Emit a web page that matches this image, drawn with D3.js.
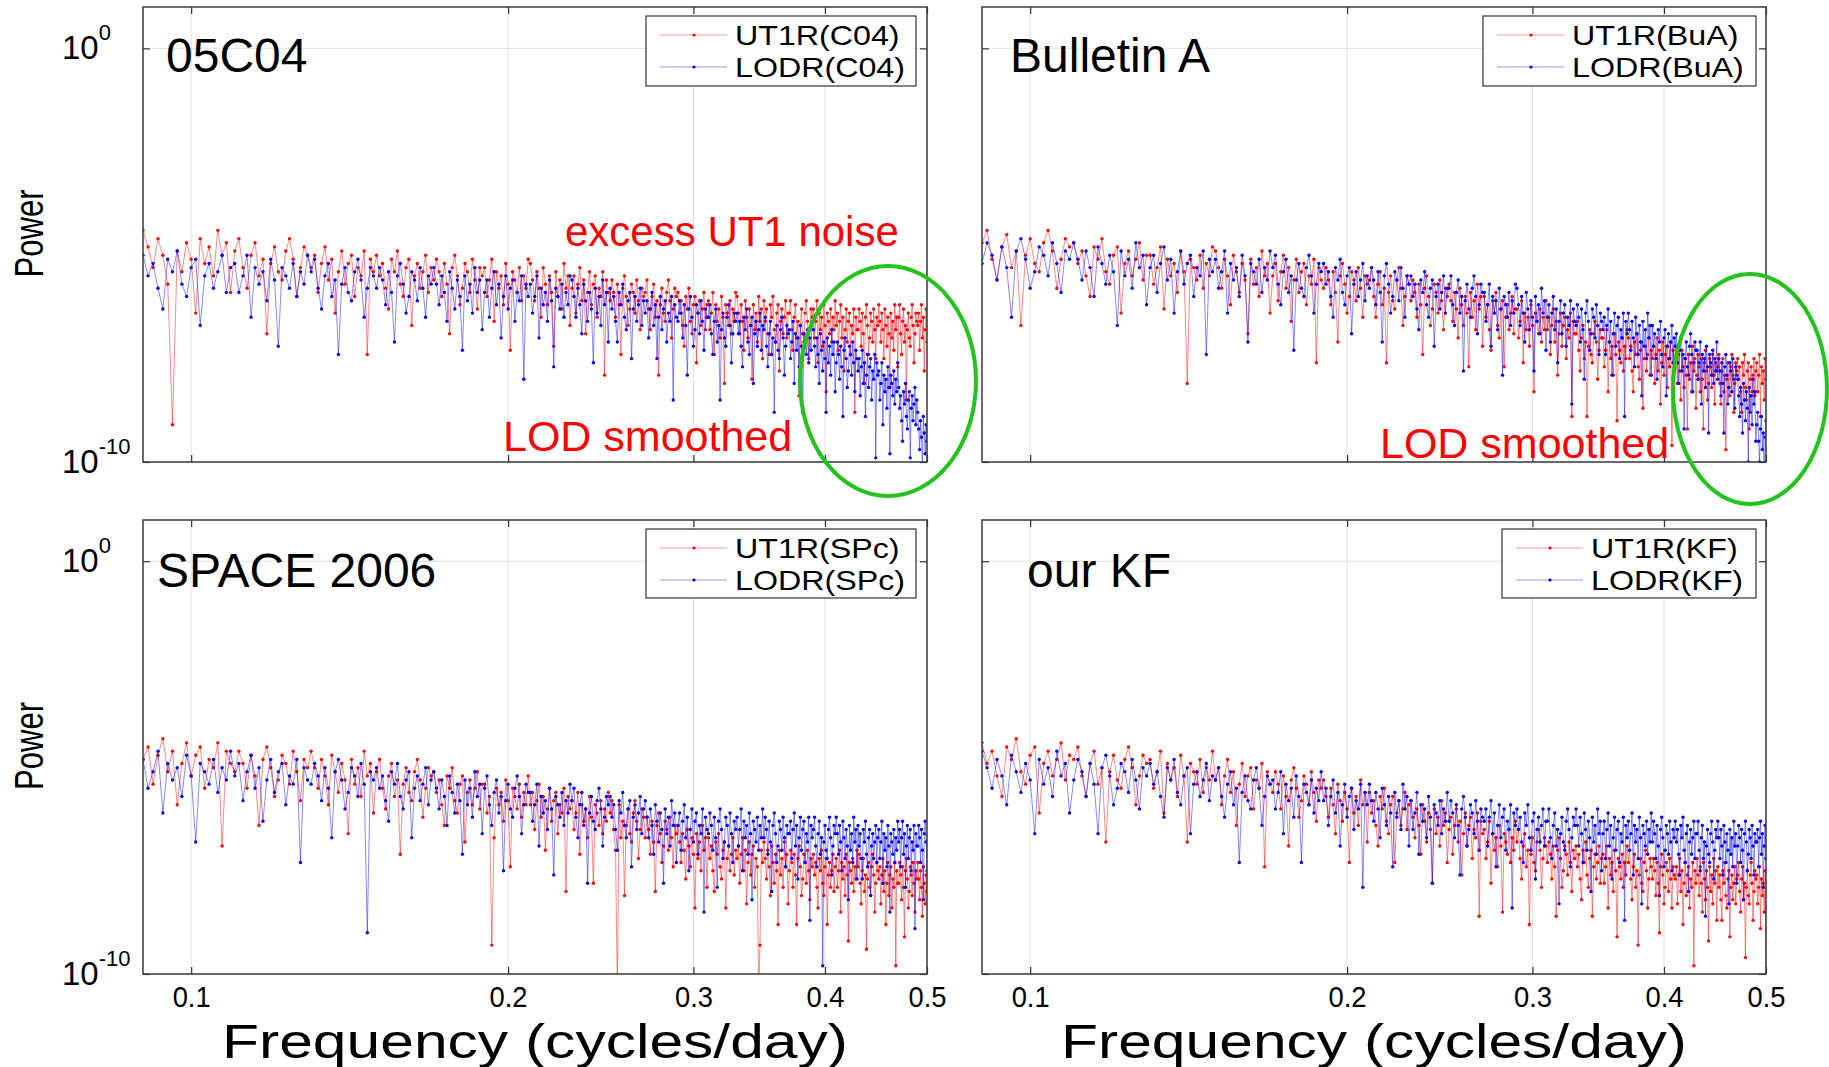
<!DOCTYPE html>
<html><head><meta charset="utf-8">
<script src="https://cdn.jsdelivr.net/npm/d3@7"></script>
<style>body{margin:0;background:#fff} text{font-family:"Liberation Sans",Arial,Helvetica,sans-serif}</style>
</head><body><svg id="c" width="1829" height="1067"></svg>
<script>
// Frequencies (cycles/day)
const freqs = [
0.090,0.091,0.092,0.093,0.094,0.095,0.096,0.097,0.098,0.099,0.100,0.101,0.102,0.103,0.104,0.105,0.106,0.107,0.108,0.109,
0.110,0.111,0.112,0.113,0.114,0.115,0.116,0.117,0.118,0.119,0.120,0.121,0.122,0.123,0.124,0.125,0.126,0.127,0.128,0.129,
0.130,0.131,0.132,0.133,0.134,0.135,0.136,0.137,0.138,0.139,0.140,0.141,0.142,0.143,0.144,0.145,0.146,0.147,0.148,0.149,
0.150,0.151,0.152,0.153,0.154,0.155,0.156,0.157,0.158,0.159,0.160,0.161,0.162,0.163,0.164,0.165,0.166,0.167,0.168,0.169,
0.170,0.171,0.172,0.173,0.174,0.175,0.176,0.177,0.178,0.179,0.180,0.181,0.182,0.183,0.184,0.185,0.186,0.187,0.188,0.189,
0.190,0.191,0.192,0.193,0.194,0.195,0.196,0.197,0.198,0.199,0.200,0.201,0.202,0.203,0.204,0.205,0.206,0.207,0.208,0.209,
0.210,0.211,0.212,0.213,0.214,0.215,0.216,0.217,0.218,0.219,0.220,0.221,0.222,0.223,0.224,0.225,0.226,0.227,0.228,0.229,
0.230,0.231,0.232,0.233,0.234,0.235,0.236,0.237,0.238,0.239,0.240,0.241,0.242,0.243,0.244,0.245,0.246,0.247,0.248,0.249,
0.250,0.251,0.252,0.253,0.254,0.255,0.256,0.257,0.258,0.259,0.260,0.261,0.262,0.263,0.264,0.265,0.266,0.267,0.268,0.269,
0.270,0.271,0.272,0.273,0.274,0.275,0.276,0.277,0.278,0.279,0.280,0.281,0.282,0.283,0.284,0.285,0.286,0.287,0.288,0.289,
0.290,0.291,0.292,0.293,0.294,0.295,0.296,0.297,0.298,0.299,0.300,0.301,0.302,0.303,0.304,0.305,0.306,0.307,0.308,0.309,
0.310,0.311,0.312,0.313,0.314,0.315,0.316,0.317,0.318,0.319,0.320,0.321,0.322,0.323,0.324,0.325,0.326,0.327,0.328,0.329,
0.330,0.331,0.332,0.333,0.334,0.335,0.336,0.337,0.338,0.339,0.340,0.341,0.342,0.343,0.344,0.345,0.346,0.347,0.348,0.349,
0.350,0.351,0.352,0.353,0.354,0.355,0.356,0.357,0.358,0.359,0.360,0.361,0.362,0.363,0.364,0.365,0.366,0.367,0.368,0.369,
0.370,0.371,0.372,0.373,0.374,0.375,0.376,0.377,0.378,0.379,0.380,0.381,0.382,0.383,0.384,0.385,0.386,0.387,0.388,0.389,
0.390,0.391,0.392,0.393,0.394,0.395,0.396,0.397,0.398,0.399,0.400,0.401,0.402,0.403,0.404,0.405,0.406,0.407,0.408,0.409,
0.410,0.411,0.412,0.413,0.414,0.415,0.416,0.417,0.418,0.419,0.420,0.421,0.422,0.423,0.424,0.425,0.426,0.427,0.428,0.429,
0.430,0.431,0.432,0.433,0.434,0.435,0.436,0.437,0.438,0.439,0.440,0.441,0.442,0.443,0.444,0.445,0.446,0.447,0.448,0.449,
0.450,0.451,0.452,0.453,0.454,0.455,0.456,0.457,0.458,0.459,0.460,0.461,0.462,0.463,0.464,0.465,0.466,0.467,0.468,0.469,
0.470,0.471,0.472,0.473,0.474,0.475,0.476,0.477,0.478,0.479,0.480,0.481,0.482,0.483,0.484,0.485,0.486,0.487,0.488,0.489,
0.490,0.491,0.492,0.493,0.494,0.495,0.496,0.497,0.498,0.499,0.500];

// log10(Power)
const c04Ut1 = [
-4.4,-4.8,-5.3,-4.6,-5.0,-5.7,-9.1,-4.9,-5.4,-4.7,-5.1,-6.4,-4.6,-5.2,-4.8,-5.5,-4.4,-5.0,-4.7,-5.9,
-4.9,-4.6,-5.3,-5.8,-5.0,-4.7,-5.5,-5.1,-6.9,-5.2,-4.8,-5.4,-5.6,-4.9,-4.6,-5.1,-6.0,-5.3,-4.8,-5.0,
-5.3,-5.0,-5.9,-5.2,-4.8,-5.6,-5.1,-6.4,-5.4,-4.9,-5.7,-5.2,-5.0,-6.0,-5.3,-5.5,-4.9,-7.4,-5.1,-5.4,
-5.0,-5.5,-5.2,-5.8,-6.3,-5.1,-5.4,-4.9,-5.7,-6.0,-5.3,-5.1,-6.7,-5.5,-5.2,-5.8,-5.4,-5.0,-5.9,-5.3,
-5.6,-5.1,-5.4,-6.0,-5.2,-5.7,-6.9,-5.3,-5.0,-5.5,-6.2,-5.8,-5.2,-5.4,-5.9,-5.1,-5.6,-6.3,-5.3,-5.5,
-5.3,-6.0,-5.6,-5.1,-6.6,-5.4,-5.8,-5.5,-6.2,-5.2,-5.7,-7.3,-5.4,-5.6,-5.9,-5.3,-6.1,-5.5,-5.8,-5.1,
-5.2,-5.6,-6.1,-5.4,-5.8,-6.5,-5.3,-5.7,-6.2,-5.5,-5.9,-7.2,-5.4,-6.0,-5.6,-6.3,-5.2,-5.8,-5.5,-6.7,
-5.8,-5.5,-6.4,-5.7,-5.3,-6.1,-5.6,-6.9,-5.9,-5.4,-6.2,-5.7,-5.5,-6.5,-5.8,-6.0,-5.4,-7.9,-5.6,-5.9,
-6.1,-5.6,-5.9,-6.5,-5.7,-6.2,-7.4,-5.8,-5.5,-6.0,-6.7,-6.3,-5.7,-5.9,-6.4,-5.6,-6.1,-6.8,-5.8,-6.0,
-5.9,-5.6,-6.3,-6.8,-6.0,-5.7,-6.5,-6.1,-7.9,-6.2,-5.8,-6.4,-6.6,-5.9,-5.6,-6.1,-7.0,-6.3,-5.8,-6.0,
-5.9,-6.4,-6.1,-6.7,-7.2,-6.0,-6.3,-5.8,-6.6,-6.9,-6.2,-6.0,-7.6,-6.4,-6.1,-6.7,-6.3,-5.9,-6.8,-6.2,
-6.1,-6.8,-6.4,-5.9,-7.4,-6.2,-6.6,-6.3,-7.0,-6.0,-6.5,-8.1,-6.2,-6.4,-6.7,-6.1,-6.9,-6.3,-6.6,-5.9,
-6.0,-6.4,-6.9,-6.2,-6.6,-7.3,-6.1,-6.5,-7.0,-6.3,-6.7,-8.0,-6.2,-6.8,-6.4,-7.1,-6.0,-6.6,-6.3,-7.5,
-6.1,-6.6,-6.3,-6.9,-7.4,-6.2,-6.5,-6.0,-6.8,-7.1,-6.4,-6.2,-7.8,-6.6,-6.3,-6.9,-6.5,-6.1,-7.0,-6.4,
-6.4,-6.1,-6.8,-7.3,-6.5,-6.2,-7.0,-6.6,-8.4,-6.7,-6.3,-6.9,-7.1,-6.4,-6.1,-6.6,-7.5,-6.8,-6.3,-6.5,
-6.3,-7.0,-6.6,-6.1,-7.6,-6.4,-6.8,-6.5,-7.2,-6.2,-6.7,-8.3,-6.4,-6.6,-6.9,-6.3,-7.1,-6.5,-6.8,-6.1,
-6.7,-6.4,-7.3,-6.6,-6.2,-7.0,-6.5,-7.8,-6.8,-6.3,-7.1,-6.6,-6.4,-7.4,-6.7,-6.9,-6.3,-8.8,-6.5,-6.8,
-6.8,-6.3,-6.6,-7.2,-6.4,-6.9,-8.1,-6.5,-6.2,-6.7,-7.4,-7.0,-6.4,-6.6,-7.1,-6.3,-6.8,-7.5,-6.5,-6.7,
-6.2,-6.6,-7.1,-6.4,-6.8,-7.5,-6.3,-6.7,-7.2,-6.5,-6.9,-8.2,-6.4,-7.0,-6.6,-7.3,-6.2,-6.8,-6.5,-7.7,
-6.5,-6.2,-6.9,-7.4,-6.6,-6.3,-7.1,-6.7,-8.5,-6.8,-6.4,-7.0,-7.2,-6.5,-6.2,-6.7,-7.6,-6.9,-6.4,-6.6,
-6.7,-6.4,-7.3,-6.6,-6.2,-7.0,-6.5,-7.8,-6.8,-6.3,-7.1];
const c04Lod = [
-5.0,-5.5,-5.2,-5.8,-6.3,-5.1,-5.4,-4.9,-5.7,-6.0,-5.3,-5.1,-6.7,-5.5,-5.2,-5.8,-5.4,-5.0,-5.9,-5.3,
-5.2,-5.9,-5.5,-5.0,-6.5,-5.3,-5.7,-5.4,-6.1,-5.1,-5.6,-7.2,-5.3,-5.5,-5.8,-5.2,-6.0,-5.4,-5.7,-5.0,
-5.4,-5.1,-5.8,-6.3,-5.5,-5.2,-6.0,-5.6,-7.4,-5.7,-5.3,-5.9,-6.1,-5.4,-5.1,-5.6,-6.5,-5.8,-5.3,-5.5,
-5.8,-5.3,-5.6,-6.2,-5.4,-5.9,-7.1,-5.5,-5.2,-5.7,-6.4,-6.0,-5.4,-5.6,-6.1,-5.3,-5.8,-6.5,-5.5,-5.7,
-5.3,-5.7,-6.2,-5.5,-5.9,-6.6,-5.4,-5.8,-6.3,-5.6,-6.0,-7.3,-5.5,-6.1,-5.7,-6.4,-5.3,-5.9,-5.6,-6.8,
-5.9,-5.6,-6.5,-5.8,-5.4,-6.2,-5.7,-7.0,-6.0,-5.5,-6.3,-5.8,-5.6,-6.6,-5.9,-6.1,-5.5,-8.0,-5.7,-6.0,
-5.7,-6.4,-6.0,-5.5,-7.0,-5.8,-6.2,-5.9,-6.6,-5.6,-6.1,-7.7,-5.8,-6.0,-6.3,-5.7,-6.5,-5.9,-6.2,-5.5,
-5.6,-6.0,-6.5,-5.8,-6.2,-6.9,-5.7,-6.1,-6.6,-5.9,-6.3,-7.6,-5.8,-6.4,-6.0,-6.7,-5.6,-6.2,-5.9,-7.1,
-5.8,-6.3,-6.0,-6.6,-7.1,-5.9,-6.2,-5.7,-6.5,-6.8,-6.1,-5.9,-7.5,-6.3,-6.0,-6.6,-6.2,-5.8,-6.7,-6.1,
-6.4,-6.1,-7.0,-6.3,-5.9,-6.7,-6.2,-7.5,-6.5,-6.0,-6.8,-6.3,-6.1,-7.1,-6.4,-6.6,-6.0,-8.5,-6.2,-6.5,
-6.6,-6.1,-6.4,-7.0,-6.2,-6.7,-7.9,-6.3,-6.0,-6.5,-7.2,-6.8,-6.2,-6.4,-6.9,-6.1,-6.6,-7.3,-6.3,-6.5,
-6.5,-6.2,-6.9,-7.4,-6.6,-6.3,-7.1,-6.7,-8.5,-6.8,-6.4,-7.0,-7.2,-6.5,-6.2,-6.7,-7.6,-6.9,-6.4,-6.6,
-6.4,-6.9,-6.6,-7.2,-7.7,-6.5,-6.8,-6.3,-7.1,-7.4,-6.7,-6.5,-8.1,-6.9,-6.6,-7.2,-6.8,-6.4,-7.3,-6.7,
-6.8,-6.5,-7.2,-7.7,-6.9,-6.6,-7.4,-7.0,-8.8,-7.1,-6.7,-7.3,-7.5,-6.8,-6.5,-7.0,-7.9,-7.2,-6.7,-6.9,
-6.8,-7.5,-7.1,-6.6,-8.1,-6.9,-7.3,-7.0,-7.7,-6.7,-7.2,-8.8,-6.9,-7.1,-7.4,-6.8,-7.6,-7.0,-7.3,-6.6,
-6.8,-7.2,-7.7,-7.0,-7.4,-8.1,-6.9,-7.3,-7.8,-7.1,-7.5,-8.8,-7.0,-7.6,-7.2,-7.9,-6.8,-7.4,-7.1,-8.3,
-7.6,-7.1,-7.4,-8.0,-7.2,-7.7,-8.9,-7.3,-7.0,-7.5,-8.2,-7.8,-7.2,-7.4,-7.9,-7.1,-7.6,-8.3,-7.3,-7.5,
-7.8,-7.5,-8.4,-7.7,-7.3,-8.1,-7.6,-8.9,-7.9,-7.4,-8.2,-7.7,-7.5,-8.5,-7.8,-8.0,-7.4,-9.9,-7.6,-7.9,
-7.8,-8.5,-8.1,-7.6,-9.1,-7.9,-8.3,-8.0,-8.7,-7.7,-8.2,-9.8,-7.9,-8.1,-8.4,-7.8,-8.6,-8.0,-8.3,-7.6,
-8.2,-8.7,-8.4,-9.0,-9.5,-8.3,-8.6,-8.1,-8.9,-9.2,-8.5,-8.3,-9.9,-8.7,-8.4,-9.0,-8.6,-8.2,-9.1,-8.5,
-8.8,-9.2,-9.7,-9.0,-9.4,-10.1,-8.9,-9.3,-9.8,-9.1,-9.5];
const buaUt1 = [
-4.7,-4.4,-5.1,-5.6,-4.8,-4.5,-5.3,-4.9,-6.7,-5.0,-4.6,-5.2,-5.4,-4.7,-4.4,-4.9,-5.8,-5.1,-4.6,-4.8,
-4.7,-5.2,-4.9,-5.5,-6.0,-4.8,-5.1,-4.6,-5.4,-5.7,-5.0,-4.8,-6.4,-5.2,-4.9,-5.5,-5.1,-4.7,-5.6,-5.0,
-5.0,-5.7,-5.3,-4.8,-6.3,-5.1,-5.5,-5.2,-5.9,-4.9,-5.4,-8.1,-5.1,-5.3,-5.6,-5.0,-5.8,-5.2,-5.5,-4.8,
-4.9,-5.3,-5.8,-5.1,-5.5,-6.2,-5.0,-5.4,-5.9,-5.2,-5.6,-6.9,-5.1,-5.7,-5.3,-6.0,-4.9,-5.5,-5.2,-6.4,
-5.5,-5.2,-6.1,-5.4,-5.0,-5.8,-5.3,-6.6,-5.6,-5.1,-5.9,-5.4,-5.2,-6.2,-5.5,-5.7,-5.1,-7.6,-5.3,-5.6,
-5.8,-5.3,-5.6,-6.2,-5.4,-5.9,-7.1,-5.5,-5.2,-5.7,-6.4,-6.0,-5.4,-5.6,-6.1,-5.3,-5.8,-6.5,-5.5,-5.7,
-5.6,-5.3,-6.0,-6.5,-5.7,-5.4,-6.2,-5.8,-7.6,-5.9,-5.5,-6.1,-6.3,-5.6,-5.3,-5.8,-6.7,-6.0,-5.5,-5.7,
-6.1,-5.6,-5.9,-6.5,-5.7,-6.2,-7.4,-5.8,-5.5,-6.0,-6.7,-6.3,-5.7,-5.9,-6.4,-5.6,-6.1,-6.8,-5.8,-6.0,
-5.7,-6.1,-6.6,-5.9,-6.3,-7.0,-5.8,-6.2,-6.7,-6.0,-6.4,-7.7,-5.9,-6.5,-6.1,-6.8,-5.7,-6.3,-6.0,-7.2,
-6.0,-6.5,-6.2,-6.8,-7.3,-6.1,-6.4,-5.9,-6.7,-7.0,-6.3,-6.1,-7.7,-6.5,-6.2,-6.8,-6.4,-6.0,-6.9,-6.3,
-6.3,-7.0,-6.6,-6.1,-7.6,-6.4,-6.8,-6.5,-7.2,-6.2,-6.7,-8.3,-6.4,-6.6,-6.9,-6.3,-7.1,-6.5,-6.8,-6.1,
-6.8,-6.5,-7.4,-6.7,-6.3,-7.1,-6.6,-7.9,-6.9,-6.4,-7.2,-6.7,-6.5,-7.5,-6.8,-7.0,-6.4,-8.9,-6.6,-6.9,
-6.9,-6.6,-7.3,-7.8,-7.0,-6.7,-7.5,-7.1,-8.9,-7.2,-6.8,-7.4,-7.6,-6.9,-6.6,-7.1,-8.0,-7.3,-6.8,-7.0,
-7.0,-7.7,-7.3,-6.8,-8.3,-7.1,-7.5,-7.2,-7.9,-6.9,-7.4,-9.0,-7.1,-7.3,-7.6,-7.0,-7.8,-7.2,-7.5,-6.8,
-7.0,-7.5,-7.2,-7.8,-8.3,-7.1,-7.4,-6.9,-7.7,-8.0,-7.3,-7.1,-8.7,-7.5,-7.2,-7.8,-7.4,-7.0,-7.9,-7.3,
-7.5,-7.2,-8.1,-7.4,-7.0,-7.8,-7.3,-8.6,-7.6,-7.1,-7.9,-7.4,-7.2,-8.2,-7.5,-7.7,-7.1,-9.6,-7.3,-7.6,
-7.2,-7.6,-8.1,-7.4,-7.8,-8.5,-7.3,-7.7,-8.2,-7.5,-7.9,-9.2,-7.4,-8.0,-7.6,-8.3,-7.2,-7.8,-7.5,-8.7,
-7.9,-7.4,-7.7,-8.3,-7.5,-8.0,-9.2,-7.6,-7.3,-7.8,-8.5,-8.1,-7.5,-7.7,-8.2,-7.4,-7.9,-8.6,-7.6,-7.8,
-7.7,-7.4,-8.1,-8.6,-7.8,-7.5,-8.3,-7.9,-9.7,-8.0,-7.6,-8.2,-8.4,-7.7,-7.4,-7.9,-8.8,-8.1,-7.6,-7.8,
-7.5,-8.0,-7.7,-8.3,-8.8,-7.6,-7.9,-7.4,-8.2,-8.5,-7.8,-7.6,-9.2,-8.0,-7.7,-8.3,-7.9,-7.5,-8.4,-7.8,
-7.6,-8.3,-7.9,-7.4,-8.9,-7.7,-8.1,-7.8,-8.5,-7.5,-8.0];
const buaLod = [
-5.2,-4.7,-5.0,-5.6,-4.8,-5.3,-6.5,-4.9,-4.6,-5.1,-5.8,-5.4,-4.8,-5.0,-5.5,-4.7,-5.2,-5.9,-4.9,-5.1,
-4.7,-5.1,-5.6,-4.9,-5.3,-6.0,-4.8,-5.2,-5.7,-5.0,-5.4,-6.7,-4.9,-5.5,-5.1,-5.8,-4.7,-5.3,-5.0,-6.2,
-5.3,-5.0,-5.9,-5.2,-4.8,-5.6,-5.1,-6.4,-5.4,-4.9,-5.7,-5.2,-5.0,-6.0,-5.3,-5.5,-4.9,-7.4,-5.1,-5.4,
-5.1,-5.8,-5.4,-4.9,-6.4,-5.2,-5.6,-5.3,-6.0,-5.0,-5.5,-7.1,-5.2,-5.4,-5.7,-5.1,-5.9,-5.3,-5.6,-4.9,
-5.3,-5.0,-5.7,-6.2,-5.4,-5.1,-5.9,-5.5,-7.3,-5.6,-5.2,-5.8,-6.0,-5.3,-5.0,-5.5,-6.4,-5.7,-5.2,-5.4,
-5.2,-5.7,-5.4,-6.0,-6.5,-5.3,-5.6,-5.1,-5.9,-6.2,-5.5,-5.3,-6.9,-5.7,-5.4,-6.0,-5.6,-5.2,-6.1,-5.5,
-5.8,-5.3,-5.6,-6.2,-5.4,-5.9,-7.1,-5.5,-5.2,-5.7,-6.4,-6.0,-5.4,-5.6,-6.1,-5.3,-5.8,-6.5,-5.5,-5.7,
-5.5,-6.0,-5.7,-6.3,-6.8,-5.6,-5.9,-5.4,-6.2,-6.5,-5.8,-5.6,-7.2,-6.0,-5.7,-6.3,-5.9,-5.5,-6.4,-5.8,
-5.8,-5.5,-6.2,-6.7,-5.9,-5.6,-6.4,-6.0,-7.8,-6.1,-5.7,-6.3,-6.5,-5.8,-5.5,-6.0,-6.9,-6.2,-5.7,-5.9,
-5.9,-6.6,-6.2,-5.7,-7.2,-6.0,-6.4,-6.1,-6.8,-5.8,-6.3,-7.9,-6.0,-6.2,-6.5,-5.9,-6.7,-6.1,-6.4,-5.7,
-5.8,-6.2,-6.7,-6.0,-6.4,-7.1,-5.9,-6.3,-6.8,-6.1,-6.5,-7.8,-6.0,-6.6,-6.2,-6.9,-5.8,-6.4,-6.1,-7.3,
-6.5,-6.2,-7.1,-6.4,-6.0,-6.8,-6.3,-7.6,-6.6,-6.1,-6.9,-6.4,-6.2,-7.2,-6.5,-6.7,-6.1,-8.6,-6.3,-6.6,
-6.7,-6.2,-6.5,-7.1,-6.3,-6.8,-8.0,-6.4,-6.1,-6.6,-7.3,-6.9,-6.3,-6.5,-7.0,-6.2,-6.7,-7.4,-6.4,-6.6,
-6.8,-6.5,-7.4,-6.7,-6.3,-7.1,-6.6,-7.9,-6.9,-6.4,-7.2,-6.7,-6.5,-7.5,-6.8,-7.0,-6.4,-8.9,-6.6,-6.9,
-6.4,-6.8,-7.3,-6.6,-7.0,-7.7,-6.5,-6.9,-7.4,-6.7,-7.1,-8.4,-6.6,-7.2,-6.8,-7.5,-6.4,-7.0,-6.7,-7.9,
-6.7,-7.2,-6.9,-7.5,-8.0,-6.8,-7.1,-6.6,-7.4,-7.7,-7.0,-6.8,-8.4,-7.2,-6.9,-7.5,-7.1,-6.7,-7.6,-7.0,
-7.2,-6.9,-7.6,-8.1,-7.3,-7.0,-7.8,-7.4,-9.2,-7.5,-7.1,-7.7,-7.9,-7.2,-6.9,-7.4,-8.3,-7.6,-7.1,-7.3,
-7.3,-8.0,-7.6,-7.1,-8.6,-7.4,-7.8,-7.5,-8.2,-7.2,-7.7,-9.3,-7.4,-7.6,-7.9,-7.3,-8.1,-7.5,-7.8,-7.1,
-8.0,-7.5,-7.8,-8.4,-7.6,-8.1,-9.3,-7.7,-7.4,-7.9,-8.6,-8.2,-7.6,-7.8,-8.3,-7.5,-8.0,-8.7,-7.7,-7.9,
-8.0,-8.4,-8.9,-8.2,-8.6,-9.3,-8.1,-8.5,-9.0,-8.3,-8.7,-10.0,-8.2,-8.8,-8.4,-9.1,-8.0,-8.6,-8.3,-9.5,
-9.1,-8.8,-9.5,-10.0,-9.2,-8.9,-9.7,-9.3,-10.5,-9.4,-9.0];
const spcUt1 = [
-4.8,-4.5,-5.4,-4.7,-4.3,-5.1,-4.6,-5.9,-4.9,-4.4,-5.2,-4.7,-4.5,-5.5,-4.8,-5.0,-4.4,-6.9,-4.6,-4.9,
-5.1,-4.6,-4.9,-5.5,-4.7,-5.2,-6.4,-4.8,-4.5,-5.0,-5.7,-5.3,-4.7,-4.9,-5.4,-4.6,-5.1,-5.8,-4.8,-5.0,
-4.6,-5.0,-5.5,-4.8,-5.2,-5.9,-4.7,-5.1,-5.6,-4.9,-5.3,-6.6,-4.8,-5.4,-5.0,-5.7,-4.6,-5.2,-4.9,-6.1,
-5.1,-4.8,-5.5,-6.0,-5.2,-4.9,-5.7,-5.3,-7.1,-5.4,-5.0,-5.6,-5.8,-5.1,-4.8,-5.3,-6.2,-5.5,-5.0,-5.2,
-5.1,-5.6,-5.3,-5.9,-6.4,-5.2,-5.5,-5.0,-5.8,-6.1,-5.4,-5.2,-6.8,-5.6,-5.3,-5.9,-5.5,-5.1,-6.0,-5.4,
-5.4,-6.1,-5.7,-9.3,-6.7,-5.5,-5.9,-5.6,-6.3,-5.3,-5.8,-7.4,-5.5,-5.7,-6.0,-5.4,-6.2,-5.6,-5.9,-5.2,
-5.9,-5.6,-6.5,-5.8,-5.4,-6.2,-5.7,-7.0,-6.0,-5.5,-6.3,-5.8,-5.6,-6.6,-5.9,-6.1,-5.5,-8.0,-5.7,-6.0,
-5.8,-6.5,-6.1,-5.6,-7.1,-5.9,-6.3,-6.0,-6.7,-5.7,-6.2,-7.8,-5.9,-6.1,-6.4,-5.8,-6.6,-6.0,-6.3,-5.6,
-6.1,-5.8,-6.5,-7.0,-10.5,-5.9,-6.7,-6.3,-8.1,-6.4,-6.0,-6.6,-6.8,-6.1,-5.8,-6.3,-7.2,-6.5,-6.0,-6.2,
-6.7,-6.2,-6.5,-7.1,-6.3,-6.8,-8.0,-6.4,-6.1,-6.6,-7.3,-6.9,-6.3,-6.5,-7.0,-6.2,-6.7,-7.4,-6.4,-6.6,
-6.4,-6.8,-7.3,-6.6,-7.0,-7.7,-6.5,-6.9,-7.4,-6.7,-7.1,-8.4,-6.6,-7.2,-6.8,-7.5,-6.4,-7.0,-6.7,-7.9,
-6.7,-7.2,-6.9,-7.5,-8.0,-6.8,-7.1,-6.6,-7.4,-7.7,-7.0,-6.8,-8.4,-7.2,-6.9,-7.5,-7.1,-6.7,-7.6,-7.0,
-7.2,-6.9,-7.8,-7.1,-6.7,-7.5,-7.0,-8.3,-7.3,-6.8,-7.6,-7.1,-6.9,-7.9,-7.2,-7.4,-10.5,-9.3,-7.0,-7.3,
-6.8,-7.2,-7.7,-7.0,-7.4,-8.1,-6.9,-7.3,-7.8,-7.1,-7.5,-8.8,-7.0,-7.6,-7.2,-7.9,-6.8,-7.4,-7.1,-8.3,
-7.5,-7.0,-7.3,-7.9,-7.1,-7.6,-8.8,-7.2,-6.9,-7.4,-8.1,-7.7,-7.1,-7.3,-7.8,-7.0,-7.5,-8.2,-7.2,-7.4,
-7.1,-7.6,-7.3,-7.9,-8.4,-7.2,-7.5,-7.0,-7.8,-8.1,-7.4,-7.2,-8.8,-7.6,-7.3,-7.9,-7.5,-7.1,-8.0,-7.4,
-7.2,-7.9,-7.5,-7.0,-8.5,-7.3,-7.7,-7.4,-8.1,-7.1,-7.6,-9.2,-7.3,-7.5,-7.8,-7.2,-8.0,-7.4,-7.7,-7.0,
-7.4,-7.1,-7.8,-8.3,-7.5,-7.2,-8.0,-7.6,-9.4,-7.7,-7.3,-7.9,-8.1,-7.4,-7.1,-7.6,-8.5,-7.8,-7.3,-7.5,
-7.7,-7.4,-8.3,-7.6,-7.2,-8.0,-7.5,-8.8,-7.8,-7.3,-8.1,-7.6,-7.4,-8.4,-7.7,-7.9,-7.3,-9.8,-7.5,-7.8,
-7.8,-7.3,-7.6,-8.2,-7.4,-7.9,-9.1,-7.5,-7.2,-7.7,-8.4,-8.0,-7.4,-7.6,-8.1,-7.3,-7.8,-8.5,-7.5,-7.7,
-7.3,-7.7,-8.2,-7.5,-7.9,-8.6,-7.4,-7.8,-8.3,-7.6,-8.0];
const spcLod = [
-4.8,-5.5,-5.1,-4.6,-6.1,-4.9,-5.3,-5.0,-5.7,-4.7,-5.2,-6.8,-4.9,-5.1,-5.4,-4.8,-5.6,-5.0,-5.3,-4.6,
-5.2,-4.9,-5.8,-5.1,-4.7,-5.5,-5.0,-6.3,-5.3,-4.8,-5.6,-5.1,-4.9,-5.9,-5.2,-5.4,-4.8,-7.3,-5.0,-5.3,
-5.4,-4.9,-5.2,-5.8,-5.0,-5.5,-6.7,-5.1,-4.8,-5.3,-6.0,-5.6,-5.0,-5.2,-5.7,-4.9,-5.4,-9.0,-5.1,-5.3,
-5.0,-5.5,-5.2,-5.8,-6.3,-5.1,-5.4,-4.9,-5.7,-6.0,-5.3,-5.1,-6.7,-5.5,-5.2,-5.8,-5.4,-5.0,-5.9,-5.3,
-5.1,-5.5,-6.0,-5.3,-5.7,-6.4,-5.2,-5.6,-6.1,-5.4,-5.8,-7.1,-5.3,-5.9,-5.5,-6.2,-5.1,-5.7,-5.4,-6.6,
-5.5,-5.2,-5.9,-6.4,-5.6,-5.3,-6.1,-5.7,-7.5,-5.8,-5.4,-6.0,-6.2,-5.5,-5.2,-5.7,-6.6,-5.9,-5.4,-5.6,
-5.6,-6.3,-5.9,-5.4,-6.9,-5.7,-6.1,-5.8,-6.5,-5.5,-6.0,-7.6,-5.7,-5.9,-6.2,-5.6,-6.4,-5.8,-6.1,-5.4,
-5.8,-5.5,-6.2,-6.7,-5.9,-5.6,-6.4,-6.0,-7.8,-6.1,-5.7,-6.3,-6.5,-5.8,-5.5,-6.0,-6.9,-6.2,-5.7,-5.9,
-5.7,-6.2,-5.9,-6.5,-7.0,-5.8,-6.1,-5.6,-6.4,-6.7,-6.0,-5.8,-7.4,-6.2,-5.9,-6.5,-6.1,-5.7,-6.6,-6.0,
-5.8,-6.2,-6.7,-6.0,-6.4,-7.1,-5.9,-6.3,-6.8,-6.1,-6.5,-7.8,-6.0,-6.6,-6.2,-6.9,-5.8,-6.4,-6.1,-7.3,
-6.4,-6.1,-7.0,-6.3,-5.9,-6.7,-6.2,-7.5,-6.5,-6.0,-6.8,-6.3,-6.1,-7.1,-6.4,-6.6,-6.0,-8.5,-6.2,-6.5,
-6.6,-6.1,-6.4,-7.0,-6.2,-6.7,-7.9,-6.3,-6.0,-6.5,-7.2,-6.8,-6.2,-6.4,-6.9,-6.1,-6.6,-7.3,-6.3,-6.5,
-6.2,-6.9,-6.5,-6.0,-7.5,-6.3,-6.7,-6.4,-7.1,-6.1,-6.6,-8.2,-6.3,-6.5,-6.8,-6.2,-7.0,-6.4,-6.7,-6.0,
-6.7,-6.2,-6.5,-7.1,-6.3,-6.8,-8.0,-6.4,-6.1,-6.6,-7.3,-6.9,-6.3,-6.5,-7.0,-6.2,-6.7,-7.4,-6.4,-6.6,
-6.6,-6.3,-7.2,-6.5,-6.1,-6.9,-6.4,-7.7,-6.7,-6.2,-7.0,-6.5,-6.3,-7.3,-6.6,-6.8,-6.2,-8.7,-6.4,-6.7,
-6.5,-6.2,-6.9,-7.4,-6.6,-6.3,-7.1,-6.7,-9.8,-6.8,-6.4,-7.0,-7.2,-6.5,-6.2,-6.7,-7.6,-6.9,-6.4,-6.6,
-6.2,-6.6,-7.1,-6.4,-6.8,-7.5,-6.3,-6.7,-7.2,-6.5,-6.9,-8.2,-6.4,-7.0,-6.6,-7.3,-6.2,-6.8,-6.5,-7.7,
-6.4,-6.9,-6.6,-7.2,-7.7,-6.5,-6.8,-6.3,-7.1,-7.4,-6.7,-6.5,-8.1,-6.9,-6.6,-7.2,-6.8,-6.4,-7.3,-6.7,
-6.5,-7.2,-6.8,-6.3,-7.8,-6.6,-7.0,-6.7,-7.4,-6.4,-6.9,-8.5,-6.6,-6.8,-7.1,-6.5,-7.3,-6.7,-7.0,-6.3,
-6.8,-6.5,-7.4,-6.7,-6.3,-7.1,-6.6,-7.9,-6.9,-6.4,-7.2,-6.7,-6.5,-7.5,-6.8,-7.0,-6.4,-8.9,-6.6,-6.9,
-6.9,-6.4,-6.7,-7.3,-6.5,-7.0,-8.2,-6.6,-6.3,-6.8,-7.5];
const kfUt1 = [
-4.4,-4.9,-4.6,-5.2,-5.7,-4.5,-4.8,-4.3,-5.1,-5.4,-4.7,-4.5,-6.1,-4.9,-4.6,-5.2,-4.8,-4.4,-5.3,-4.7,
-4.8,-4.5,-5.2,-5.7,-4.9,-4.6,-5.4,-5.0,-6.8,-5.1,-4.7,-5.3,-5.5,-4.8,-4.5,-5.0,-5.9,-5.2,-4.7,-4.9,
-4.8,-5.5,-5.1,-4.6,-6.1,-4.9,-5.3,-5.0,-5.7,-4.7,-5.2,-6.8,-4.9,-5.1,-5.4,-4.8,-5.6,-5.0,-5.3,-4.6,
-5.3,-5.0,-5.9,-5.2,-4.8,-5.6,-5.1,-6.4,-5.4,-4.9,-5.7,-5.2,-5.0,-6.0,-5.3,-5.5,-4.9,-7.4,-5.1,-5.4,
-5.6,-5.1,-5.4,-6.0,-5.2,-5.7,-6.9,-5.3,-5.0,-5.5,-6.2,-5.8,-5.2,-5.4,-5.9,-5.1,-5.6,-6.3,-5.3,-5.5,
-5.3,-5.7,-6.2,-5.5,-5.9,-6.6,-5.4,-5.8,-6.3,-5.6,-6.0,-7.3,-5.5,-6.1,-5.7,-6.4,-5.3,-5.9,-5.6,-6.8,
-5.6,-6.1,-5.8,-6.4,-6.9,-5.7,-6.0,-5.5,-6.3,-6.6,-5.9,-5.7,-7.3,-6.1,-5.8,-6.4,-6.0,-5.6,-6.5,-5.9,
-5.8,-6.2,-6.7,-6.0,-6.4,-7.1,-5.9,-6.3,-6.8,-6.1,-6.5,-7.8,-6.0,-6.6,-6.2,-6.9,-5.8,-6.4,-6.1,-7.3,
-6.5,-6.2,-7.1,-6.4,-6.0,-6.8,-6.3,-7.6,-6.6,-6.1,-6.9,-6.4,-6.2,-7.2,-6.5,-6.7,-6.1,-8.6,-6.3,-6.6,
-6.5,-7.2,-6.8,-6.3,-7.8,-6.6,-7.0,-6.7,-7.4,-6.4,-6.9,-8.5,-6.6,-6.8,-7.1,-6.5,-7.3,-6.7,-7.0,-6.3,
-6.8,-6.5,-7.2,-7.7,-6.9,-6.6,-7.4,-7.0,-8.8,-7.1,-6.7,-7.3,-7.5,-6.8,-6.5,-7.0,-7.9,-7.2,-6.7,-6.9,
-7.3,-6.8,-7.1,-7.7,-6.9,-7.4,-8.6,-7.0,-6.7,-7.2,-7.9,-7.5,-6.9,-7.1,-7.6,-6.8,-7.3,-8.0,-7.0,-7.2,
-6.9,-7.4,-7.1,-7.7,-8.2,-7.0,-7.3,-6.8,-7.6,-7.9,-7.2,-7.0,-8.6,-7.4,-7.1,-7.7,-7.3,-6.9,-7.8,-7.2,
-7.1,-7.8,-7.4,-6.9,-8.4,-7.2,-7.6,-7.3,-8.0,-7.0,-7.5,-9.1,-7.2,-7.4,-7.7,-7.1,-7.9,-7.3,-7.6,-6.9,
-7.3,-7.0,-7.7,-8.2,-7.4,-7.1,-7.9,-7.5,-9.3,-7.6,-7.2,-7.8,-8.0,-7.3,-7.0,-7.5,-8.4,-7.7,-7.2,-7.4,
-7.7,-7.2,-7.5,-8.1,-7.3,-7.8,-9.0,-7.4,-7.1,-7.6,-8.3,-7.9,-7.3,-7.5,-8.0,-7.2,-7.7,-8.4,-7.4,-7.6,
-7.7,-7.4,-8.3,-7.6,-7.2,-8.0,-7.5,-8.8,-7.8,-7.3,-8.1,-7.6,-7.4,-8.4,-7.7,-7.9,-7.3,-9.8,-7.5,-7.8,
-7.2,-7.6,-8.1,-7.4,-7.8,-8.5,-7.3,-7.7,-8.2,-7.5,-7.9,-9.2,-7.4,-8.0,-7.6,-8.3,-7.2,-7.8,-7.5,-8.7,
-7.4,-7.9,-7.6,-8.2,-8.7,-7.5,-7.8,-7.3,-8.1,-8.4,-7.7,-7.5,-9.1,-7.9,-7.6,-8.2,-7.8,-7.4,-8.3,-7.7,
-7.6,-7.3,-8.0,-8.5,-7.7,-7.4,-8.2,-7.8,-9.6,-7.9,-7.5,-8.1,-8.3,-7.6,-7.3,-7.8,-8.7,-8.0,-7.5,-7.7,
-7.6,-8.3,-7.9,-7.4,-8.9,-7.7,-8.1,-7.8,-8.5,-7.5,-10.3];
const kfLod = [
-4.6,-5.0,-5.5,-4.8,-5.2,-5.9,-4.7,-5.1,-5.6,-4.9,-5.3,-6.6,-4.8,-5.4,-5.0,-5.7,-4.6,-5.2,-4.9,-6.1,
-5.3,-4.8,-5.1,-5.7,-4.9,-5.4,-6.6,-5.0,-4.7,-5.2,-5.9,-5.5,-4.9,-5.1,-5.6,-4.8,-5.3,-6.0,-5.0,-5.2,
-4.9,-5.4,-5.1,-5.7,-6.2,-5.0,-5.3,-4.8,-5.6,-5.9,-5.2,-5.0,-6.6,-5.4,-5.1,-5.7,-5.3,-4.9,-5.8,-5.2,
-5.3,-5.0,-5.7,-6.2,-5.4,-5.1,-5.9,-5.5,-7.3,-5.6,-5.2,-5.8,-6.0,-5.3,-5.0,-5.5,-6.4,-5.7,-5.2,-5.4,
-5.3,-6.0,-5.6,-5.1,-6.6,-5.4,-5.8,-5.5,-6.2,-5.2,-5.7,-7.3,-5.4,-5.6,-5.9,-5.3,-6.1,-5.5,-5.8,-5.1,
-5.8,-5.5,-6.4,-5.7,-5.3,-6.1,-5.6,-6.9,-5.9,-5.4,-6.2,-5.7,-5.5,-6.5,-5.8,-6.0,-5.4,-7.9,-5.6,-5.9,
-5.4,-5.8,-6.3,-5.6,-6.0,-6.7,-5.5,-5.9,-6.4,-5.7,-6.1,-7.4,-5.6,-6.2,-5.8,-6.5,-5.4,-6.0,-5.7,-6.9,
-5.8,-6.5,-6.1,-5.6,-7.1,-5.9,-6.3,-6.0,-6.7,-5.7,-6.2,-7.8,-5.9,-6.1,-6.4,-5.8,-6.6,-6.0,-6.3,-5.6,
-6.3,-5.8,-6.1,-6.7,-5.9,-6.4,-7.6,-6.0,-5.7,-6.2,-6.9,-6.5,-5.9,-6.1,-6.6,-5.8,-6.3,-7.0,-6.0,-6.2,
-6.3,-6.0,-6.9,-6.2,-5.8,-6.6,-6.1,-7.4,-6.4,-5.9,-6.7,-6.2,-6.0,-7.0,-6.3,-6.5,-5.9,-8.4,-6.1,-6.4,
-6.0,-6.5,-6.2,-6.8,-7.3,-6.1,-6.4,-5.9,-6.7,-7.0,-6.3,-6.1,-7.7,-6.5,-6.2,-6.8,-6.4,-6.0,-6.9,-6.3,
-6.3,-6.0,-6.7,-7.2,-6.4,-6.1,-6.9,-6.5,-8.3,-6.6,-6.2,-6.8,-7.0,-6.3,-6.0,-6.5,-7.4,-6.7,-6.2,-6.4,
-6.0,-6.4,-6.9,-6.2,-6.6,-7.3,-6.1,-6.5,-7.0,-6.3,-6.7,-8.0,-6.2,-6.8,-6.4,-7.1,-6.0,-6.6,-6.3,-7.5,
-6.6,-6.3,-7.2,-6.5,-6.1,-6.9,-6.4,-7.7,-6.7,-6.2,-7.0,-6.5,-6.3,-7.3,-6.6,-6.8,-6.2,-8.7,-6.4,-6.7,
-6.3,-7.0,-6.6,-6.1,-7.6,-6.4,-6.8,-6.5,-7.2,-6.2,-6.7,-8.3,-6.4,-6.6,-6.9,-6.3,-7.1,-6.5,-6.8,-6.1,
-6.8,-6.3,-6.6,-7.2,-6.4,-6.9,-8.1,-6.5,-6.2,-6.7,-7.4,-7.0,-6.4,-6.6,-7.1,-6.3,-6.8,-7.5,-6.5,-6.7,
-6.3,-6.8,-6.5,-7.1,-7.6,-6.4,-6.7,-6.2,-7.0,-7.3,-6.6,-6.4,-8.0,-6.8,-6.5,-7.1,-6.7,-6.3,-7.2,-6.6,
-6.6,-6.3,-7.0,-7.5,-6.7,-6.4,-7.2,-6.8,-8.6,-6.9,-6.5,-7.1,-7.3,-6.6,-6.3,-6.8,-7.7,-7.0,-6.5,-6.7,
-6.3,-6.7,-7.2,-6.5,-6.9,-7.6,-6.4,-6.8,-7.3,-6.6,-7.0,-8.3,-6.5,-7.1,-6.7,-7.4,-6.3,-6.9,-6.6,-7.8,
-6.9,-6.4,-6.7,-7.3,-6.5,-7.0,-8.2,-6.6,-6.3,-6.8,-7.5,-7.1,-6.5,-6.7,-7.2,-6.4,-6.9,-7.6,-6.6,-6.8,
-6.8,-6.5,-7.4,-6.7,-6.3,-7.1,-6.6,-7.9,-6.9,-6.4,-7.2];

const panelTitles = ['05C04', 'Bulletin A', 'SPACE 2006', 'our KF'];
const ut1Labels = ['UT1R(C04)', 'UT1R(BuA)', 'UT1R(SPc)', 'UT1R(KF)'];
const lodLabels = ['LODR(C04)', 'LODR(BuA)', 'LODR(SPc)', 'LODR(KF)'];
const ut1Series = [c04Ut1, buaUt1, spcUt1, kfUt1];
const lodSeries = [c04Lod, buaLod, spcLod, kfLod];
const xTicks = [0.1, 0.2, 0.3, 0.4, 0.5];
const xTickLabels = ['0.1', '0.2', '0.3', '0.4', '0.5'];
const yTickExps = [0, -10];
const xLabel = 'Frequency (cycles/day)';
const yLabel = 'Power';
const annotTop = 'excess UT1 noise';
const annotBottom = 'LOD smoothed';

const RED = '#ff0000', BLUE = '#0000ff', GREEN = '#22c41c';
const svg = d3.select('#c');
svg.append('rect').attr('width', 1829).attr('height', 1067).attr('fill', '#fff');

const layout = [
  {L:143, R:927, T:7, B:462, lg:[646, 16, 270, 70], tx:166, ty:72, yl:true, xl:false},
  {L:982, R:1766, T:7, B:462, lg:[1483, 16, 273, 70], tx:1010, ty:72, yl:false, xl:false},
  {L:143, R:927, T:520, B:974, lg:[646, 529, 270, 69], tx:157, ty:587, yl:true, xl:true},
  {L:982, R:1766, T:520, B:974, lg:[1502, 529, 254, 69], tx:1027, ty:587, yl:false, xl:true}
];

layout.forEach((p, k) => {
  const x = d3.scaleLog().domain([0.09, 0.5]).range([p.L, p.R]);
  const y = d3.scaleLog().domain([1e-10, 1e1]).range([p.B, p.T]);
  const g = svg.append('g');
  const cid = 'clip' + k;
  svg.append('clipPath').attr('id', cid).append('rect')
    .attr('x', p.L).attr('y', p.T).attr('width', p.R - p.L).attr('height', p.B - p.T);

  // grid
  g.selectAll('.vg').data(xTicks).enter().append('line')
    .attr('x1', d => x(d)).attr('x2', d => x(d)).attr('y1', p.T).attr('y2', p.B)
    .attr('stroke', '#e2e2e2').attr('stroke-width', 1);
  g.selectAll('.hg').data(yTickExps).enter().append('line')
    .attr('x1', p.L).attr('x2', p.R).attr('y1', d => y(Math.pow(10, d))).attr('y2', d => y(Math.pow(10, d)))
    .attr('stroke', '#e2e2e2').attr('stroke-width', 1);

  // series
  const n = freqs.length;
  const plot = g.append('g').attr('clip-path', `url(#${cid})`);
  const line = d3.line().x((d, i) => x(freqs[i])).y(d => y(Math.pow(10, d)));
  [[ut1Series[k], RED], [lodSeries[k], BLUE]].forEach(([vals, col]) => {
    const v = vals.slice(0, n);
    plot.append('path').datum(v).attr('d', line).attr('fill', 'none')
      .attr('stroke', col).attr('stroke-width', 0.85).attr('stroke-opacity', 0.55);
    plot.selectAll(null).data(v).enter().append('circle')
      .attr('cx', (d, i) => x(freqs[i])).attr('cy', d => y(Math.pow(10, d)))
      .attr('r', 1.7).attr('fill', col);
  });

  // axes ticks (inner)
  const axB = d3.axisBottom(x).tickValues(xTicks).tickSize(-7).tickPadding(12)
    .tickFormat((d, i) => xTickLabels[i]);
  const gb = g.append('g').attr('transform', `translate(0,${p.B})`).call(axB);
  const axT = d3.axisTop(x).tickValues(xTicks).tickSize(-7);
  const gt = g.append('g').attr('transform', `translate(0,${p.T})`).call(axT);
  const yv = yTickExps.map(e => Math.pow(10, e));
  const gl = g.append('g').attr('transform', `translate(${p.L},0)`)
    .call(d3.axisLeft(y).tickValues(yv).tickSize(-7));
  const gr = g.append('g').attr('transform', `translate(${p.R},0)`)
    .call(d3.axisRight(y).tickValues(yv).tickSize(-7));
  [gb, gt, gl, gr].forEach(a => {
    a.select('.domain').remove();
    a.selectAll('.tick line').attr('stroke', '#333').attr('stroke-width', 1.2);
  });
  [gt, gl, gr].forEach(a => a.selectAll('.tick text').remove());
  if (!p.xl) gb.selectAll('.tick text').remove();
  gb.selectAll('.tick text').attr('font-size', 30).attr('fill', '#000')
    .attr('font-family', '"Liberation Sans", Arial, sans-serif')
    .attr('textLength', 38).attr('lengthAdjust', 'spacingAndGlyphs');

  // frame
  g.append('rect').attr('x', p.L).attr('y', p.T).attr('width', p.R - p.L).attr('height', p.B - p.T)
    .attr('fill', 'none').attr('stroke', '#3a3a3a').attr('stroke-width', 1.5);

  // y tick labels with superscripts
  if (p.yl) {
    yTickExps.forEach(e => {
      const yy = y(Math.pow(10, e));
      const t = g.append('text').attr('x', 62).attr('y', yy + 11).attr('font-size', 33).attr('fill', '#000');
      t.append('tspan').text('10');
      t.append('tspan').attr('dy', -19).attr('font-size', 22).text(String(e));
    });
    g.append('text').attr('transform', `translate(43,${(p.T + p.B) / 2 - 1}) rotate(-90)`)
      .attr('text-anchor', 'middle').attr('font-size', 40).attr('fill', '#000')
      .attr('textLength', 88).attr('lengthAdjust', 'spacingAndGlyphs').text(yLabel);
  }
  if (p.xl) {
    g.append('text').attr('x', (p.L + p.R) / 2).attr('y', 1058).attr('text-anchor', 'middle')
      .attr('font-size', 48).attr('fill', '#000')
      .attr('textLength', 626).attr('lengthAdjust', 'spacingAndGlyphs').text(xLabel);
  }

  // title
  g.append('text').attr('x', p.tx).attr('y', p.ty).attr('font-size', 48).attr('fill', '#000').text(panelTitles[k]);

  // legend
  const [lx, ly, lw, lh] = p.lg;
  const lg = g.append('g');
  lg.append('rect').attr('x', lx).attr('y', ly).attr('width', lw).attr('height', lh)
    .attr('fill', '#fff').attr('stroke', '#333').attr('stroke-width', 1.2);
  [[ut1Labels[k], RED, 19], [lodLabels[k], BLUE, 51]].forEach(([lab, col, dy]) => {
    lg.append('line').attr('x1', lx + 14).attr('x2', lx + 81).attr('y1', ly + dy).attr('y2', ly + dy)
      .attr('stroke', col).attr('stroke-width', 0.8).attr('stroke-opacity', 0.5);
    lg.append('circle').attr('cx', lx + 48).attr('cy', ly + dy).attr('r', 1.6).attr('fill', col);
    const t = lg.append('text').attr('x', lx + 89).attr('y', ly + dy + 10).attr('font-size', 28).attr('fill', '#000').text(lab);
    const w = t.node().getComputedTextLength();
    t.attr('textLength', (w * 1.15).toFixed(1)).attr('lengthAdjust', 'spacingAndGlyphs');
  });
});

// annotations
svg.append('text').attr('x', 565).attr('y', 246).attr('font-size', 42).attr('fill', RED).text(annotTop);
svg.append('text').attr('x', 503).attr('y', 451).attr('font-size', 43).attr('fill', RED).text(annotBottom);
svg.append('text').attr('x', 1380).attr('y', 458).attr('font-size', 43).attr('fill', RED).text(annotBottom);
svg.append('ellipse').attr('cx', 888).attr('cy', 381).attr('rx', 88).attr('ry', 115)
  .attr('fill', 'none').attr('stroke', GREEN).attr('stroke-width', 4);
svg.append('ellipse').attr('cx', 1750).attr('cy', 389).attr('rx', 77).attr('ry', 115)
  .attr('fill', 'none').attr('stroke', GREEN).attr('stroke-width', 4);
</script></body></html>
